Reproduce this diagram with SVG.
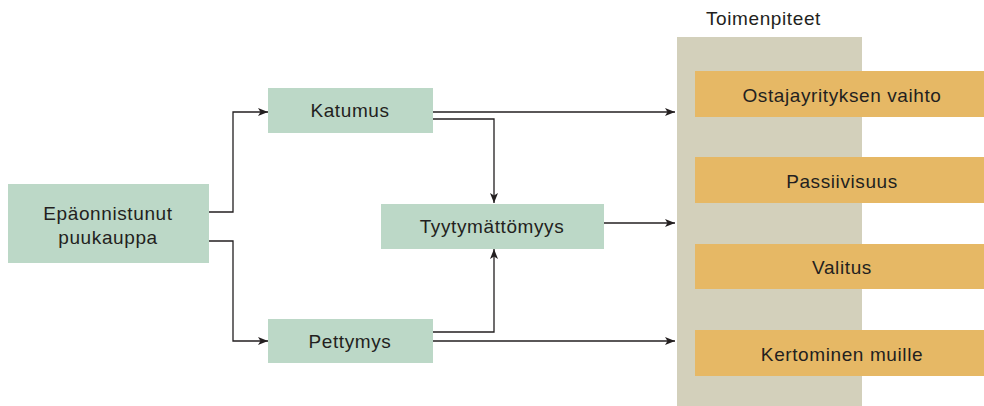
<svg xmlns="http://www.w3.org/2000/svg" width="984" height="406" viewBox="0 0 984 406">
<style>
text{font-family:"Liberation Sans","DejaVu Sans",sans-serif;font-size:19px;letter-spacing:0.6px;fill:#231f20;text-anchor:middle}
.g{fill:#bcd8c7}
.o{fill:#e6b865}
.c{fill:none;stroke:#231f20;stroke-width:1.3}
</style>
<defs>
<marker id="ah" viewBox="0 0 10 8" refX="10" refY="4" markerWidth="10" markerHeight="8" markerUnits="userSpaceOnUse" orient="auto">
<path d="M0,0 L10,4 L0,8 L2.5,4 Z" fill="#231f20"/>
</marker>
</defs>
<rect x="0" y="0" width="984" height="406" fill="#fff"/>
<g id="panel">
<rect x="677" y="37" width="185" height="369" fill="#d3d0bb"/>
<text x="706" y="25" style="text-anchor:start">Toimenpiteet</text>
</g>
<g id="n-start"><rect class="g" x="8" y="184" width="201" height="79"/><text x="108" y="220">Epäonnistunut</text><text x="108" y="244">puukauppa</text></g>
<g id="n-katumus"><rect class="g" x="268" y="88" width="165" height="45"/><text x="350" y="117">Katumus</text></g>
<g id="n-pettymys"><rect class="g" x="268" y="319" width="165" height="44"/><text x="350" y="348">Pettymys</text></g>
<g id="n-tyyt"><rect class="g" x="381" y="204" width="223" height="45"/><text x="492" y="233">Tyytymättömyys</text></g>
<g id="n-ostaja"><rect class="o" x="695" y="71" width="289" height="46"/><text x="842" y="102">Ostajayrityksen vaihto</text></g>
<g id="n-passiivisuus"><rect class="o" x="695" y="157" width="289" height="46"/><text x="842" y="188">Passiivisuus</text></g>
<g id="n-valitus"><rect class="o" x="695" y="244" width="289" height="45"/><text x="842" y="274">Valitus</text></g>
<g id="n-kertominen"><rect class="o" x="695" y="330" width="289" height="46"/><text x="842" y="361">Kertominen muille</text></g>
<g id="connectors">
<path class="c" d="M209,212 H233 V112 H268" marker-end="url(#ah)"/>
<path class="c" d="M209,241 H233 V341 H268" marker-end="url(#ah)"/>
<path class="c" d="M433,112 H675" marker-end="url(#ah)"/>
<path class="c" d="M433,119 H494 V203" marker-end="url(#ah)"/>
<path class="c" d="M604,223 H675" marker-end="url(#ah)"/>
<path class="c" d="M433,332 H494 V249" marker-end="url(#ah)"/>
<path class="c" d="M433,341 H675" marker-end="url(#ah)"/>
</g>
</svg>
